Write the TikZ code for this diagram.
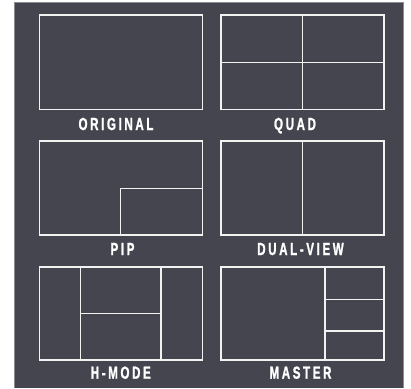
\documentclass[tikz,border=0pt]{standalone}
\usepackage{fontspec}
\newfontfamily\labelfont[FakeStretch=0.66,LetterSpace=15,FakeBold=1.2]{Liberation Sans Bold}
\definecolor{panelbg}{HTML}{45454F}
\definecolor{linewhite}{HTML}{F2F2F2}
\definecolor{edgegray}{HTML}{8A8A90}
\begin{document}
\begin{tikzpicture}[x=1pt,y=-1pt,
  scr/.style={draw=linewhite,line width=1.8pt},
  lbl/.style={text=white,font=\labelfont\fontsize{17.5}{17.5}\selectfont,anchor=base,inner sep=0pt}]
\useasboundingbox (0,0) rectangle (411,388);
\fill[white] (0,0) rectangle (411,388);
\fill[panelbg] (14,2) rectangle (404,388);
\draw[edgegray,line width=0.8pt] (14.4,388) -- (14.4,2.4) -- (403.6,2.4) -- (403.6,388);
% ORIGINAL
\draw[scr] (39.5,15.3) rectangle (202.5,109.5);
% QUAD
\draw[scr] (221,15.3) rectangle (383.7,109.5);
\draw[scr] (302.4,15.3) -- (302.4,109.5);
\draw[scr] (221,62.4) -- (383.7,62.4);
% PIP
\draw[scr] (39.5,141) rectangle (202.5,235);
\draw[scr] (120.5,235) -- (120.5,188.4) -- (202.5,188.4);
% DUAL-VIEW
\draw[scr] (221,141) rectangle (383.7,235);
\draw[scr] (302.4,141) -- (302.4,235);
% H-MODE
\draw[scr] (39.5,266.7) rectangle (202.5,360.3);
\draw[scr] (80.4,266.7) -- (80.4,360.3);
\draw[scr] (161,266.7) -- (161,360.3);
\draw[scr] (80.4,313.4) -- (161,313.4);
% MASTER
\draw[scr] (221,266.7) rectangle (383.7,360.3);
\draw[scr] (325,266.7) -- (325,360.3);
\draw[scr] (325,299.4) -- (383.7,299.4);
\draw[scr] (325,331) -- (383.7,331);
% labels
\node[lbl] (lorig) at (116,130) {ORIGINAL};
\node[lbl] (lquad) at (295,130) {QUAD};
\node[lbl] (lpip) at (122.5,255) {PIP};
\node[lbl] (ldual) at (300.5,255) {DUAL-VIEW};
\node[lbl] (lhmode) at (120.8,378.7) {H-MODE};
\node[lbl] (lmaster) at (300.5,378.7) {MASTER};
\end{tikzpicture}
\end{document}
